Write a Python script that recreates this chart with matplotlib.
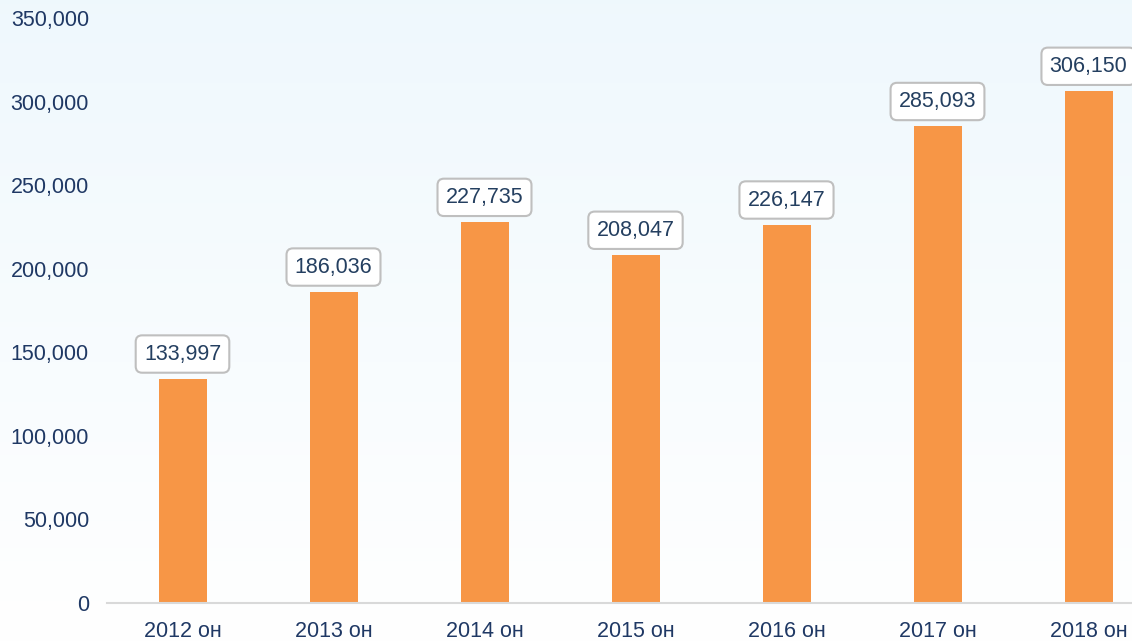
import matplotlib
matplotlib.use("Agg")
import matplotlib.pyplot as plt
import numpy as np

categories = ["2012 он", "2013 он", "2014 он", "2015 он", "2016 он", "2017 он", "2018 он"]
values = [133997, 186036, 227735, 208047, 226147, 285093, 306150]
yticks = [0, 50000, 100000, 150000, 200000, 250000, 300000, 350000]

plt.rcParams['font.family'] = ['Liberation Sans', 'DejaVu Sans']

W, H = 1132, 642
fig = plt.figure(figsize=(W / 100, H / 100), dpi=100)

# background gradient
bg = fig.add_axes([0, 0, 1, 1], zorder=-10)
grad = np.linspace(0, 1, 256).reshape(-1, 1)
top = np.array([0.937, 0.973, 0.992])
bot = np.array([1.0, 1.0, 1.0])
img = top[None, None, :] * (1 - grad[:, :, None]) + bot[None, None, :] * grad[:, :, None]
bg.imshow(img, aspect='auto', extent=[0, 1, 0, 1])
bg.axis('off')

left = 107 / W
bottom = (H - 603) / H
topf = (H - 18) / H
ax = fig.add_axes([left, bottom, 1 - left, topf - bottom])
ax.set_facecolor('none')

x = np.arange(len(categories))
ax.bar(x, values, width=48 / 151, color='#F79646', zorder=2)

slot = 151
ax.set_xlim(-0.5, (W - 107) / slot - 0.5)
ax.set_ylim(0, 350000)
ax.set_yticks(yticks)
ax.set_yticklabels([f"{v:,}" for v in yticks])
ax.set_xticks(x)
ax.set_xticklabels(categories)

for s in ['top', 'right', 'left']:
    ax.spines[s].set_visible(False)
ax.spines['bottom'].set_color('#D9D9D9')
ax.spines['bottom'].set_linewidth(1.5)
ax.tick_params(axis='both', length=0, labelsize=15.5, colors='#1F3864')
ax.tick_params(axis='y', pad=13)
ax.tick_params(axis='x', pad=13)

for xi, v in zip(x, values):
    ax.annotate(f"{v:,}", xy=(xi, v), xytext=(0, 18), textcoords='offset points',
                ha='center', va='center', fontsize=15.5, color='#243F60',
                bbox=dict(boxstyle='round,pad=0.38,rounding_size=0.3', fc='white',
                          ec='#BFBFBF', lw=1.5),
                annotation_clip=False, zorder=3)

fig.savefig('out.png', dpi=100)
